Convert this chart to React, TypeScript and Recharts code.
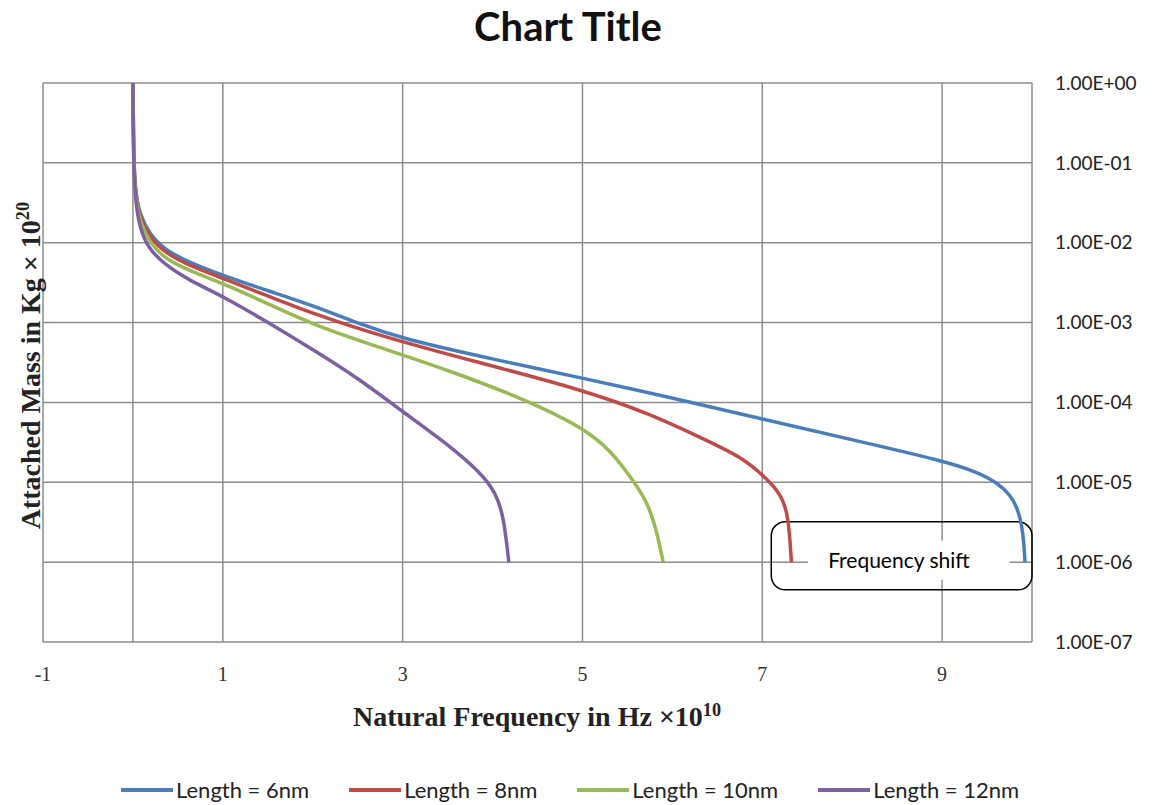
import { LineChart, Line, XAxis, YAxis, CartesianGrid, ReferenceLine, ReferenceArea } from 'recharts'

// natural frequency (x 10^10 Hz) vs attached mass (kg x 10^20)
const freq6 = [0, 0.006, 0.011, 0.033, 0.078, 0.19, 0.357, 0.635, 1.014, 1.527, 2.007, 2.531, 3.01, 4.013, 5.006, 6.009, 7.001, 8.004, 9.019, 9.387, 9.610, 9.755, 9.844, 9.889, 9.911, 9.922]
const mass6 = [1, 0.258, 0.094, 0.0397, 0.0223, 0.0125, 0.00813, 0.00559, 0.00384, 0.00245, 0.00163, 9.5e-4, 6.2e-4, 3.46e-4, 2.01e-4, 1.13e-4, 6.2e-5, 3.4e-5, 1.85e-5, 1.35e-5, 9.9e-6, 7.1e-6, 4.6e-6, 2.8e-6, 1.66e-6, 1e-6]

const freq8 = [0, 0.006, 0.011, 0.033, 0.078, 0.19, 0.357, 0.635, 1.014, 1.527, 2.007, 2.754, 3.757, 5.006, 5.764, 6.321, 6.767, 7.012, 7.179, 7.269, 7.302, 7.324]
const mass8 = [1, 0.258, 0.0889, 0.0374, 0.0204, 0.0115, 0.00745, 0.00513, 0.00352, 0.00210, 0.00129, 6.8e-4, 3.36e-4, 1.44e-4, 7.1e-5, 3.6e-5, 2.08e-5, 1.21e-5, 7.8e-6, 4.7e-6, 2.43e-6, 1e-6]

const freq10 = [0, 0.006, 0.011, 0.033, 0.078, 0.19, 0.357, 0.635, 1.014, 1.527, 2.007, 2.754, 3.501, 4.426, 5.006, 5.318, 5.574, 5.73, 5.842, 5.897]
const mass10 = [1, 0.258, 0.0839, 0.0343, 0.0182, 0.00993, 0.00627, 0.00444, 0.00305, 0.00167, 9.36e-4, 4.82e-4, 2.56e-4, 1.02e-4, 4.81e-5, 2.5e-5, 1.01e-5, 5.53e-6, 2.08e-6, 1e-6]

const freq12 = [0, 0.003, 0.011, 0.033, 0.078, 0.167, 0.357, 0.635, 1.014, 1.505, 2.007, 2.508, 3.01, 3.501, 3.869, 4.036, 4.125, 4.181]
const mass12 = [1, 0.258, 0.0769, 0.0297, 0.0153, 0.00861, 0.00527, 0.00333, 0.0021, 0.00100, 4.55e-4, 2.0e-4, 7.5e-5, 3.0e-5, 1.32e-5, 7.39e-6, 3.7e-6, 1e-6]

const seriesNames = ['Length = 6nm', 'Length = 8nm', 'Length = 10nm', 'Length = 12nm']
const seriesColors = ['#4a7ebb', '#be4b48', '#98b954', '#7d60a0']

const xTicks = [-1, 1, 3, 5, 7, 9]
const yTicks = [1e-7, 1e-6, 1e-5, 1e-4, 1e-3, 1e-2, 1e-1, 1]

const toPoints = (f: number[], m: number[]) => f.map((x, i) => ({ f: x, m: m[i] }))
const series = [
  toPoints(freq6, mass6),
  toPoints(freq8, mass8),
  toPoints(freq10, mass10),
  toPoints(freq12, mass12),
]

// Excel-like scientific notation: 1.00E-03
const sci = (v: number) => {
  const [mant, ex] = v.toExponential(2).split('e')
  const n = parseInt(ex, 10)
  return `${mant}E${n < 0 ? '-' : '+'}${String(Math.abs(n)).padStart(2, '0')}`
}

const gridColor = '#8c8c8c'

export default function App() {
  return (
    <div style={{ position: 'absolute', left: 0, top: 0, width: 1158, height: 805, background: '#fff' }}>
      <div
        style={{
          position: 'absolute', left: 418, top: 2, width: 300, textAlign: 'center',
          fontFamily: 'Lato', fontWeight: 700, fontSize: 40, color: '#111',
        }}
      >
        Chart Title
      </div>

      <LineChart width={1158} height={805} margin={{ top: 83, right: 16, bottom: 123, left: 43 }}>
        <CartesianGrid stroke={gridColor} strokeWidth={1.5} />
        <XAxis
          type="number"
          dataKey="f"
          domain={[-1, 10]}
          ticks={xTicks}
          allowDataOverflow
          axisLine={false}
          tickLine={false}
          height={40}
          tickMargin={19}
          tick={{ fill: '#333', fontSize: 20, fontFamily: 'Liberation Serif' }}
        />
        <YAxis
          orientation="right"
          type="number"
          scale="log"
          domain={[1e-7, 1]}
          ticks={yTicks}
          allowDataOverflow
          axisLine={false}
          tickLine={false}
          width={110}
          tickMargin={17}
          tickFormatter={sci}
          tick={{ fill: '#222', fontSize: 19, fontFamily: 'Lato' }}
        />
        <ReferenceLine x={0} stroke={gridColor} strokeWidth={1.5} />
        <ReferenceArea
          x1={7.1}
          x2={10}
          y1={4.5e-7}
          y2={3.2e-6}
          ifOverflow="visible"
          shape={(p: any) => (
            <rect x={p.x} y={p.y} width={p.width} height={p.height} rx={14} ry={14} fill="none" stroke="#000" strokeWidth={1.5} />
          )}
        />
        <ReferenceArea
          x1={7.51}
          x2={9.75}
          y1={6.0e-7}
          y2={1.86e-6}
          fill="#fff"
          fillOpacity={1}
          stroke="none"
          label={{ value: 'Frequency shift', position: 'insideLeft', offset: 20, fill: '#000', fontSize: 21, fontFamily: 'Lato' }}
        />
        {series.map((pts, i) => (
          <Line
            key={seriesNames[i]}
            data={pts}
            dataKey="m"
            name={seriesNames[i]}
            type="basis"
            stroke={seriesColors[i]}
            strokeWidth={3.5}
            dot={false}
            activeDot={false}
            isAnimationActive={false}
          />
        ))}
      </LineChart>

      <div
        style={{
          position: 'absolute', left: 287, top: 700, width: 500, textAlign: 'center',
          fontFamily: 'Liberation Serif', fontWeight: 700, fontSize: 28, color: '#222', whiteSpace: 'nowrap',
        }}
      >
        Natural Frequency in Hz ×10<sup style={{ fontSize: '0.65em' }}>10</sup>
      </div>

      <div
        style={{
          position: 'absolute', left: 27, top: 362, width: 0, height: 0,
        }}
      >
        <div
          style={{
            position: 'absolute', left: -250, top: -18, width: 500, textAlign: 'center',
            transform: 'rotate(-90deg)', fontFamily: 'Liberation Serif', fontWeight: 700,
            fontSize: 28, color: '#222', whiteSpace: 'nowrap', lineHeight: '36px',
          }}
        >
          Attached Mass in Kg × 10<sup style={{ fontSize: '0.65em' }}>20</sup>
        </div>
      </div>

      <div
        style={{
          position: 'absolute', left: 121, top: 776, display: 'flex', gap: 40,
          fontFamily: 'Lato', fontSize: 22, color: '#222', whiteSpace: 'nowrap',
        }}
      >
        {seriesNames.map((name, i) => (
          <div key={name} style={{ display: 'flex', alignItems: 'center' }}>
            <span style={{ display: 'inline-block', width: 52, height: 4, background: seriesColors[i], marginRight: 3 }} />
            {name}
          </div>
        ))}
      </div>
    </div>
  )
}
